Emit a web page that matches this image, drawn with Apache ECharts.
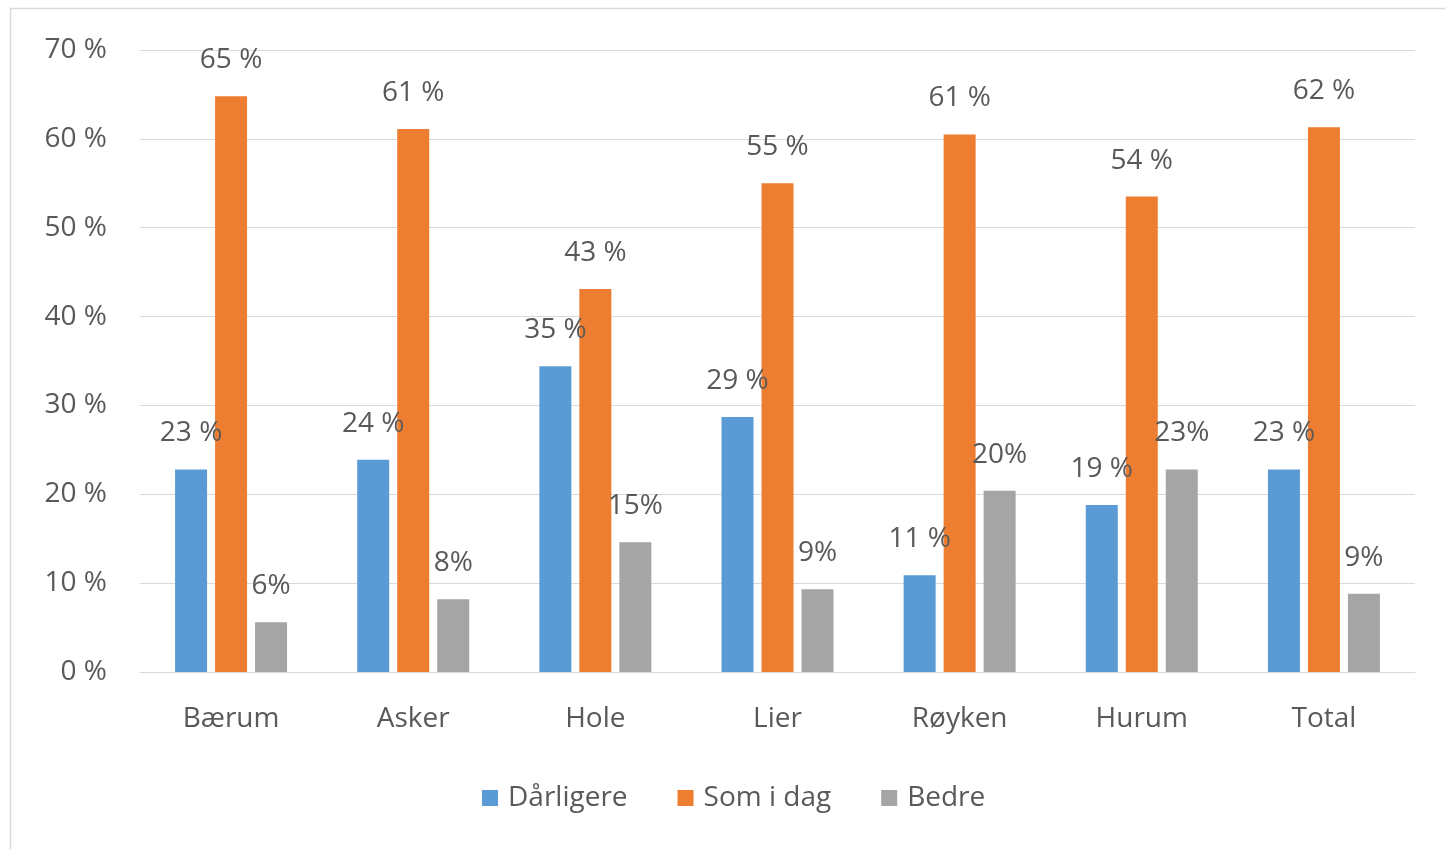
<!DOCTYPE html>
<html>
<head>
<meta charset="utf-8">
<script src="https://cdn.jsdelivr.net/npm/echarts@6/dist/echarts.min.js"></script>
<style>
html,body{margin:0;padding:0;background:#fff;}
#chart{width:1445px;height:849px;}
</style>
</head>
<body>
<div id="chart"></div>
<script>
const categories = ['Bærum', 'Asker', 'Hole', 'Lier', 'Røyken', 'Hurum', 'Total'];
const seriesNames = ['Dårligere', 'Som i dag', 'Bedre'];
const darligere = [22.8, 23.9, 34.4, 28.7, 10.9, 18.8, 22.8];
const somIDag = [64.8, 61.1, 43.1, 55.0, 60.5, 53.5, 61.3];
const bedre = [5.6, 8.2, 14.6, 9.3, 20.4, 22.8, 8.8];
const darligereLabels = ['23 %', '24 %', '35 %', '29 %', '11 %', '19 %', '23 %'];
const somIDagLabels = ['65 %', '61 %', '43 %', '55 %', '61 %', '54 %', '62 %'];
const bedreLabels = ['6%', '8%', '15%', '9%', '20%', '23%', '9%'];
const yTicks = [0, 10, 20, 30, 40, 50, 60, 70];

const colors = ['#5B9BD5', '#ED7D31', '#A5A5A5'];
const font = 'Open Sans';
const textColor = '#595959';
const fs = 28;

function mkSeries(name, data, labels, color) {
  return {
    name: name,
    type: 'bar',
    data: data,
    barWidth: 32,
    barGap: '25%',
    itemStyle: { color: color },
    label: {
      show: true,
      position: 'top',
      distance: 22,
      fontFamily: font,
      fontSize: fs,
      color: textColor,
      formatter: p => labels[p.dataIndex]
    },
    z: 2
  };
}

const chart = echarts.init(document.getElementById('chart'), null, { renderer: 'canvas' });
chart.setOption({
  backgroundColor: '#fff',
  animation: false,
  color: colors,
  graphic: [{
    type: 'rect',
    shape: { x: 10.5, y: 8.5, width: 1445, height: 849 },
    style: { fill: 'none', stroke: '#d9d9d9', lineWidth: 1.5 },
    silent: true
  }],
  grid: { left: 140, right: 30, top: 50, bottom: 177, containLabel: false },
  legend: {
    data: seriesNames,
    left: 477,
    top: 779,
    itemWidth: 16,
    itemHeight: 16,
    itemGap: 50,
    icon: 'rect',
    textStyle: { fontFamily: font, fontSize: fs, color: textColor, padding: [0, 0, 0, 5] }
  },
  xAxis: {
    type: 'category',
    data: categories,
    axisLine: { show: true, lineStyle: { color: '#d9d9d9', width: 1 } },
    axisTick: { show: false },
    axisLabel: { fontFamily: font, fontSize: fs, color: textColor, margin: 33 }
  },
  yAxis: {
    type: 'value',
    min: yTicks[0],
    max: yTicks[yTicks.length - 1],
    interval: 10,
    axisLine: { show: false },
    axisTick: { show: false },
    splitLine: { lineStyle: { color: '#d9d9d9', width: 1 } },
    axisLabel: { fontFamily: font, fontSize: fs, color: textColor, margin: 33, formatter: v => v + ' %' }
  },
  series: [
    mkSeries(seriesNames[0], darligere, darligereLabels, colors[0]),
    mkSeries(seriesNames[1], somIDag, somIDagLabels, colors[1]),
    mkSeries(seriesNames[2], bedre, bedreLabels, colors[2])
  ]
});
</script>
</body>
</html>
